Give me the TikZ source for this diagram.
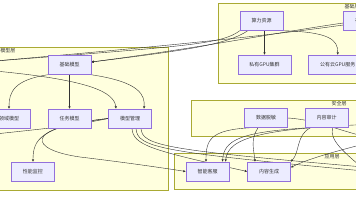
\documentclass[tikz,border=0pt]{standalone}
\usepackage{fontspec}
\setmainfont{Noto Sans CJK SC}
\usetikzlibrary{arrows.meta,positioning}
\definecolor{lanefill}{HTML}{FFFFDE}
\definecolor{lanedraw}{HTML}{AAAA33}
\definecolor{boxfill}{HTML}{ECECFF}
\definecolor{boxdraw}{HTML}{9370DB}
\definecolor{edgec}{HTML}{333333}
\pgfdeclarelayer{edges}
\pgfsetlayers{edges,main}

\begin{document}
\begin{tikzpicture}[
  x=1pt,y=-1pt,
  node distance=34pt and 17pt,
  every node/.style={font=\fontsize{5pt}{6pt}\selectfont,text=edgec},
  box/.style={draw=boxdraw,fill=boxfill,line width=0.5pt,inner xsep=11.5pt,inner ysep=0pt,minimum height=19pt},
  lane/.style={draw=lanedraw,fill=lanefill,line width=0.5pt},
  arr/.style={-{Latex[length=2.4pt,width=2.4pt]},line width=0.4pt,draw=edgec},
  wire/.style={line width=0.4pt,draw=edgec}
]
\useasboundingbox (0,0) rectangle (356,200);
% clusters
\begin{pgfonlayer}{edges}
\fill[white] (0,0) rectangle (356,200);
\draw[lane] (-152,47) rectangle (168,190);
\draw[lane] (218,3) rectangle (486,83);
\draw[lane] (191,100) rectangle (487,136);
\draw[lane] (174,153) rectangle (490,189);
\end{pgfonlayer}
\node (Lmx) at (8,51) {模型层};
\node (Ljc) at (352,7) {基础层};
\node (Laq) at (339,104) {安全层};
\node (Lyy) at (332,157) {应用层};
% infra
\node[box] (slzy) at (261.5,21) {算力资源};
\node[box,right=60pt of slzy] (ccz) {存储资源};
\node[box] (syjq) at (264.5,64.5) {私有GPU集群};
\node[box,right=of syjq] (gyyf) {公有云GPU服务};
% model
\node[box] (jcmx) at (69.5,65) {基础模型};
\node[box,below=of jcmx] (rwmx) {任务模型};
\node[box,left=of rwmx] (lymx) {领域模型};
\node[box,right=of rwmx] (mxgl) {模型管理};
\node[box] (xnjk) at (33,171.5) {性能监控};
% security
\node[box] (sjtm) at (266,118) {数据脱敏};
\node[box,right=of sjtm] (nrsj) {内容审计};
% application
\node[box] (zhkf) at (207.5,171.5) {智能客服};
\node[box,right=18pt of zhkf] (nrsc) {内容生成};
% free ends outside the frame
\coordinate (offA) at (-5,61);
\coordinate (offB) at (-5,71);
\coordinate (offC) at (-5,134);
\coordinate (offD) at (375,172);
\coordinate (offE) at (375,168);
\coordinate (offF) at (380,124);
\coordinate (offG) at (380,140);
\coordinate (offH) at (375,178);
\begin{pgfonlayer}{edges}
\draw[arr] (slzy.south -| syjq.north) -- (syjq.north);
\draw[arr] (slzy.south east) .. controls (330,32) and (338,40) .. (gyyf.north);
\draw[wire] (slzy.south west) .. controls (222,44) and (190,46) .. (offA);
\draw[arr] ([xshift=8pt]slzy.south west) .. controls (228,44) and (190,50) .. ([yshift=3pt]jcmx.east);
\draw[arr] ([yshift=-2pt]ccz.west) .. controls (280,32) and (200,48) .. ([yshift=3pt]jcmx.east);
\draw[wire] ([yshift=-4pt]ccz.west) .. controls (280,34) and (190,44) .. (offA);
\draw[arr] (jcmx.south west) .. controls (14,80) and (9,92) .. (lymx.north);
\draw[arr] (jcmx) -- (rwmx);
\draw[arr] (jcmx.south east) .. controls (140,82) and (145,95) .. ([xshift=14pt]mxgl.north);
\draw[arr] (offB) .. controls (90,80) and (114,92) .. ([xshift=-14pt]mxgl.north);
\draw[arr] (mxgl.west) .. controls (40,126) and (33,140) .. (xnjk.north);
\draw[wire] (mxgl.west) .. controls (70,126) .. (offC);
\draw[arr] (mxgl.west) .. controls (20,128) and (30,150) .. (80,157) .. controls (130,163) and (170,169) .. (zhkf.west);
\draw[arr] ([xshift=2pt]mxgl.south) .. controls (133,145) and (150,150) .. (nrsc.west);
\draw[wire] ([xshift=6pt]mxgl.south) .. controls (137,148) and (160,152) .. (offD);
\draw[wire] ([xshift=11pt]mxgl.south) .. controls (142,146) and (165,150) .. (offE);
\draw[arr] ([xshift=6pt]sjtm.south west) .. controls (210,130) and (206,140) .. ([xshift=-1.5pt]zhkf.north);
\draw[arr] ([xshift=-8pt]sjtm.south) .. controls (250,140) and (254,150) .. ([xshift=-14pt]nrsc.north);
\draw[arr] ([xshift=4pt]nrsj.south west) .. controls (240,132) and (224,140) .. ([xshift=15pt]zhkf.north);
\draw[arr] (offF) .. controls (260,128) and (228,138) .. ([xshift=18pt]zhkf.north);
\draw[arr] ([xshift=-16pt]nrsj.south) .. controls (296,135) and (300,152) .. (nrsc.north east);
\draw[wire] ([xshift=6pt]nrsj.south) .. controls (330,140) and (340,150) .. (offH);
\draw[wire] (sjtm.east) .. controls (320,120) and (340,132) .. (offG);
\draw[arr] (offG) .. controls (340,150) and (310,158) .. ([yshift=4pt]nrsc.east);
\end{pgfonlayer}
\end{tikzpicture}
\end{document}
